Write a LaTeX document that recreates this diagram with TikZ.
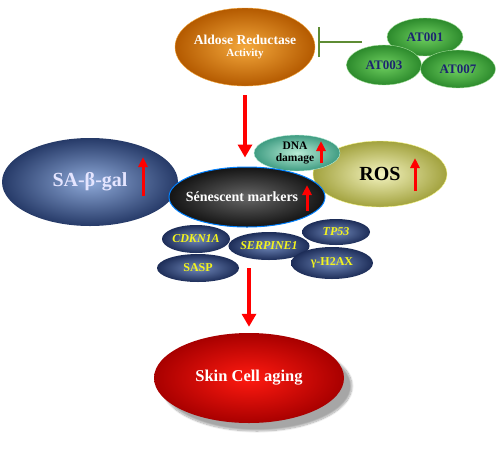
\documentclass[tikz,border=0pt]{standalone}
\usepackage{fontspec}
\setmainfont{Liberation Serif}
\usetikzlibrary{shapes.geometric,arrows.meta,shadows.blur}
\definecolor{arin}{HTML}{F4A83C}
\definecolor{arout}{HTML}{B45A00}
\definecolor{atin}{HTML}{6FD060}
\definecolor{atout}{HTML}{2C8A2C}
\definecolor{attext}{HTML}{1C2470}
\definecolor{bluein}{HTML}{8EA9D8}
\definecolor{blueout}{HTML}{263A68}
\definecolor{smallin}{HTML}{7088BA}
\definecolor{smallout}{HTML}{1D2D58}
\definecolor{dnain}{HTML}{B8ECD6}
\definecolor{dnaout}{HTML}{3F9C82}
\definecolor{rosin}{HTML}{F4F4C0}
\definecolor{rosout}{HTML}{A2A23E}
\definecolor{skinin}{HTML}{FF1A10}
\definecolor{skinout}{HTML}{A80000}
\definecolor{inhib}{HTML}{5E8C34}
\definecolor{gentext}{HTML}{F4F41C}
\tikzset{
  blob/.style={ellipse,inner sep=0pt},
  atblob/.style={blob,draw=atin!60,inner color=atin,outer color=atout,
    minimum width=76,minimum height=38,
    font=\fontsize{13}{13}\selectfont\bfseries,text=attext},
  geneblob/.style={blob,inner color=smallin,outer color=smallout,
    font=\fontsize{12}{12}\selectfont\bfseries,text=gentext},
  redarrow/.style={draw=red,line width=4pt,-{Triangle[width=14pt,length=13pt]}},
  uparrow/.style={draw=red,line width=3pt,-{Triangle[width=9pt,length=10pt]}},
  inhibline/.style={draw=inhib,line width=2pt,-{Bar[width=30pt,line width=2pt]}}
}
\begin{document}
\begin{tikzpicture}[x=1pt,y=-1pt]
  \useasboundingbox (0,0) rectangle (498,451);
  \node[blob,draw=arin,inner color=arin,outer color=arout,
    minimum width=140,minimum height=78,
    label={[align=center,text=white,font=\bfseries]center:%
      {\fontsize{13.6}{16}\selectfont Aldose Reductase}\\
      {\fontsize{11}{12}\selectfont Activity}}] (aldose) at (245,47) {};
  \node[atblob] (at001) at (425,37) {AT001};
  \node[atblob,minimum width=75,minimum height=40] (at003) at (384,65) {AT003};
  \node[atblob,minimum width=75] (at007) at (458,69) {AT007};
  \coordinate (inh) at (362,42);
  \draw[inhibline] (inh) -- ([xshift=3pt]inh -| aldose.east);
  \node[blob,inner color=bluein,outer color=blueout,
    minimum width=176,minimum height=88,
    label={[text=white!90!blue,font=\fontsize{20}{20}\selectfont\bfseries]center:SA-β-gal}]
    (sagal) at (90,182) {};
  \node[blob,draw=rosin!70!yellow,inner color=rosin,outer color=rosout,
    minimum width=134,minimum height=66,
    label={[font=\fontsize{20}{20}\selectfont\bfseries]center:ROS}]
    (ros) at (380,174) {};
  \node[blob,draw=dnain,inner color=dnain,outer color=dnaout,
    minimum width=86,minimum height=36,
    label={[align=center,font=\fontsize{11.5}{12}\selectfont\bfseries,xshift=-2pt]center:DNA\\damage}]
    (dna) at (297,153) {};
  \node[blob,draw=blue!50!cyan,line width=1pt,inner color=black!60,outer color=black!92,
    minimum width=156,minimum height=60,
    label={[text=white,xshift=-5pt,font=\fontsize{14}{14}\selectfont\bfseries]center:Sénescent markers}]
    (senes) at (247,197) {};
  \node[geneblob,minimum width=68,minimum height=28] (cdkn) at (196,239) {\itshape CDKN1A};
  \node[geneblob,minimum width=80,minimum height=28] (serpine) at (269,246) {\itshape SERPINE1};
  \node[geneblob,minimum width=82,minimum height=28] (sasp) at (198,268) {SASP};
  \node[geneblob,minimum width=68,minimum height=26] (tp53) at (336,232) {\itshape TP53};
  \node[geneblob,minimum width=82,minimum height=32] (h2ax) at (332,263) {γ-H2AX};
  \node[blob,inner color=skinin,outer color=skinout,
    minimum width=190,minimum height=90,
    blur shadow={shadow xshift=8pt,shadow yshift=-8pt,shadow blur steps=12,shadow opacity=35},
    font=\fontsize{16.5}{16}\selectfont\bfseries,text=white]
    (skin) at (249,378) {Skin Cell aging};
  \draw[uparrow] (143,196) -- (143,157);
  \draw[uparrow] (415,191) -- (415,158);
  \draw[uparrow] (321,163) -- (321,141);
  \draw[uparrow] (307,211) -- (307,185);
  \draw[redarrow,shorten <=9pt,shorten >=9pt] (aldose.south) -- (aldose.south |- senes.north);
  \draw[redarrow,shorten >=6pt] (sasp.east -| skin.north) -- (skin.north);
\end{tikzpicture}
\end{document}
